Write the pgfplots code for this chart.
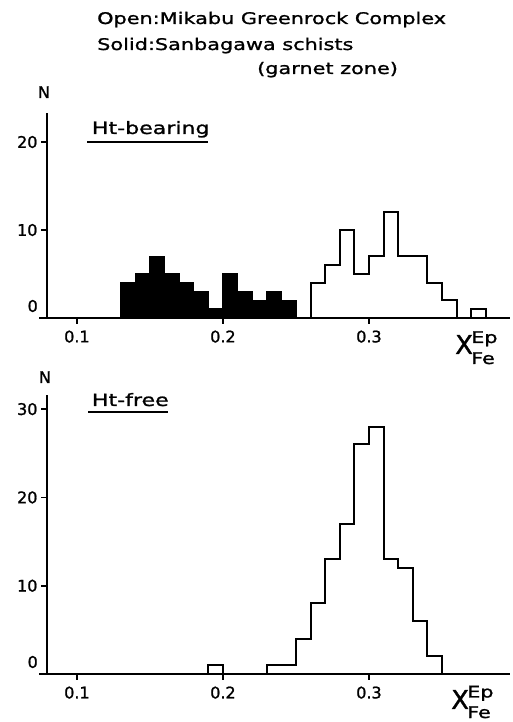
\documentclass[border=0pt]{standalone}
\usepackage{fontspec}
\setmainfont[FakeBold=1.2]{DejaVu Sans}
\newfontfamily\wide[FakeStretch=1.3,FakeBold=1.2]{DejaVu Sans}
\usepackage{pgfplots}
\pgfplotsset{compat=1.18}
\pgfplotsset{
  panel/.style={
    scale only axis, width=463pt, xmin=0.0795, xmax=0.3966, ymin=0,
    axis lines=left, axis line style={-, line width=2pt},
    x axis line style={shorten <=-8pt},
    tick align=outside, major tick length=6pt,
    tick style={line width=1.6pt, black},
    xtick={0.1,0.2,0.3}, xticklabels={0.1,0.2,0.3},
    tick label style={font=\fontsize{16}{16}\selectfont},
    xticklabel style={yshift=-3pt},
    /pgf/number format/assume math mode=true,
    clip=false, no markers,
    anchor=south west,
  }
}
\begin{document}
\begin{tikzpicture}[x=1pt,y=1pt]
\useasboundingbox (0,0) rectangle (512,722);
% top panel
\begin{axis}[panel, height=205pt, ymax=23.3, ytick={0,10,20}, yticklabels={{},10,20}, at={(47pt,404pt)}]
\addplot[const plot, fill=black, draw=black, line width=1.5pt] coordinates {(0.13,0)(0.13,4)(0.14,5)(0.15,7)(0.16,5)(0.17,4)(0.18,3)(0.19,1)(0.20,5)(0.21,3)(0.22,2)(0.23,3)(0.24,2)(0.25,0)} \closedcycle;
\addplot[const plot, black, line width=2pt] coordinates {(0.26,0)(0.26,4)(0.27,6)(0.28,10)(0.29,5)(0.30,7)(0.31,12)(0.32,7)(0.33,7)(0.34,4)(0.35,2)(0.36,0)(0.37,1)(0.38,0)};
\node[anchor=east, font=\fontsize{16}{16}\selectfont, inner sep=0pt] at (axis cs:0.0795,0) [xshift=-9pt, yshift=12pt] {0};
\end{axis}
% bottom panel
\begin{axis}[panel, height=279pt, ymax=31.6, ytick={0,10,20,30}, yticklabels={{},10,20,30}, at={(47pt,48pt)}]
\addplot[const plot, black, line width=2pt] coordinates {(0.19,0)(0.19,1)(0.20,0)(0.23,1)(0.24,1)(0.25,4)(0.26,8)(0.27,13)(0.28,17)(0.29,26)(0.30,28)(0.31,13)(0.32,12)(0.33,6)(0.34,2)(0.35,0)};
\node[anchor=east, font=\fontsize{16}{16}\selectfont, inner sep=0pt] at (axis cs:0.0795,0) [xshift=-9pt, yshift=12pt] {0};
\end{axis}
% title
\node[anchor=base west, inner sep=0pt, font=\wide\fontsize{16}{16}\selectfont] at (97,698) {Open:Mikabu Greenrock Complex};
\node[anchor=base west, inner sep=0pt, font=\wide\fontsize{16}{16}\selectfont] at (97,672) {Solid:Sanbagawa schists};
\node[anchor=base west, inner sep=0pt, font=\wide\fontsize{16}{16}\selectfont] at (257,648) {(garnet zone)};
% N labels
\node[anchor=base, inner sep=0pt, font=\fontsize{16}{16}\selectfont] at (44,624) {N};
\node[anchor=base, inner sep=0pt, font=\fontsize{16}{16}\selectfont] at (45,339) {N};
% panel labels
\node[anchor=base west, inner sep=0pt, font=\wide\fontsize{17}{17}\selectfont] at (91.7,588) {Ht-bearing};
\draw[line width=2pt] (87,580.3) -- (208,580.3);
\node[anchor=base west, inner sep=0pt, font=\wide\fontsize{17}{17}\selectfont] at (91.7,316) {Ht-free};
\draw[line width=2pt] (88,310.3) -- (168,310.3);
% X labels
\node[anchor=base west, inner sep=0pt, font=\fontsize{26}{26}\selectfont] at (455,368) {X};
\node[anchor=base west, inner sep=0pt, font=\wide\fontsize{16}{16}\selectfont] at (471,379) {Ep};
\node[anchor=base west, inner sep=0pt, font=\wide\fontsize{16}{16}\selectfont] at (471,358) {Fe};
\node[anchor=base west, inner sep=0pt, font=\fontsize{26}{26}\selectfont] at (451,13) {X};
\node[anchor=base west, inner sep=0pt, font=\wide\fontsize{16}{16}\selectfont] at (467,24.5) {Ep};
\node[anchor=base west, inner sep=0pt, font=\wide\fontsize{16}{16}\selectfont] at (467,4) {Fe};
\end{tikzpicture}
\end{document}
